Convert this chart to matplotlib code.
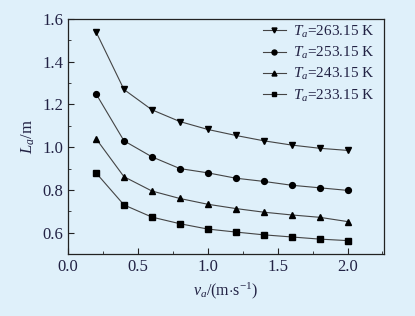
import matplotlib
matplotlib.use("Agg")
import matplotlib.pyplot as plt
from matplotlib.ticker import MultipleLocator

plt.rcParams['font.family'] = ['Liberation Serif', 'DejaVu Serif']
plt.rcParams['mathtext.fontset'] = 'custom'
plt.rcParams['mathtext.rm'] = 'Liberation Serif'
plt.rcParams['mathtext.it'] = 'Liberation Serif:italic'

v = [0.2, 0.4, 0.6, 0.8, 1.0, 1.2, 1.4, 1.6, 1.8, 2.0]
L_263 = [1.54, 1.27, 1.175, 1.12, 1.083, 1.055, 1.03, 1.01, 0.995, 0.985]
L_253 = [1.25, 1.03, 0.955, 0.90, 0.88, 0.855, 0.84, 0.822, 0.81, 0.798]
L_243 = [1.04, 0.862, 0.795, 0.76, 0.733, 0.713, 0.696, 0.683, 0.672, 0.652]
L_233 = [0.88, 0.73, 0.673, 0.642, 0.617, 0.603, 0.59, 0.58, 0.57, 0.563]
labels = ['263.15', '253.15', '243.15', '233.15']

bg = '#dff0fa'
fig = plt.figure(figsize=(4.15, 3.16), dpi=100, facecolor=bg)
ax = fig.add_axes([0.164, 0.196, 0.761, 0.744], facecolor=bg)

series = [L_263, L_253, L_243, L_233]
markers = ['v', 'o', '^', 's']
for ys, m, lab in zip(series, markers, labels):
    ax.plot(v, ys, color='#444444', lw=0.8, marker=m, ms=4.2,
            mfc='black', mec='black', label=r'$T_a$=' + lab + ' K')

ax.set_xlim(0, 2.26)
ax.set_ylim(0.5, 1.6)
ax.xaxis.set_major_locator(MultipleLocator(0.5))
ax.xaxis.set_minor_locator(MultipleLocator(0.25))
ax.yaxis.set_major_locator(MultipleLocator(0.2))
ax.yaxis.set_minor_locator(MultipleLocator(0.1))
ax.yaxis.set_major_formatter(plt.FormatStrFormatter('%.1f'))
ax.xaxis.set_major_formatter(plt.FormatStrFormatter('%.1f'))
ax.tick_params(which='both', direction='in', labelsize=12, color='#222222',
               labelcolor='#222244')
ax.tick_params(which='major', length=4)
ax.tick_params(which='minor', length=2.5)
for s in ax.spines.values():
    s.set_color('#222222')
    s.set_linewidth(0.9)

ax.set_xlabel(r'$v_a$/(m$\cdot$s$^{-1}$)', fontsize=11.5, color='#222244')
ax.set_ylabel(r'$L_a$/m', fontsize=12, color='#222244')

leg = ax.legend(loc='upper right', frameon=False, fontsize=11,
                handlelength=1.5, handletextpad=0.5, labelspacing=0.35,
                markerscale=0.85, bbox_to_anchor=(1.0, 1.02),
                borderaxespad=0.2)
for t in leg.get_texts():
    t.set_color('#222244')

fig.savefig('out.png', dpi=100, facecolor=bg)
